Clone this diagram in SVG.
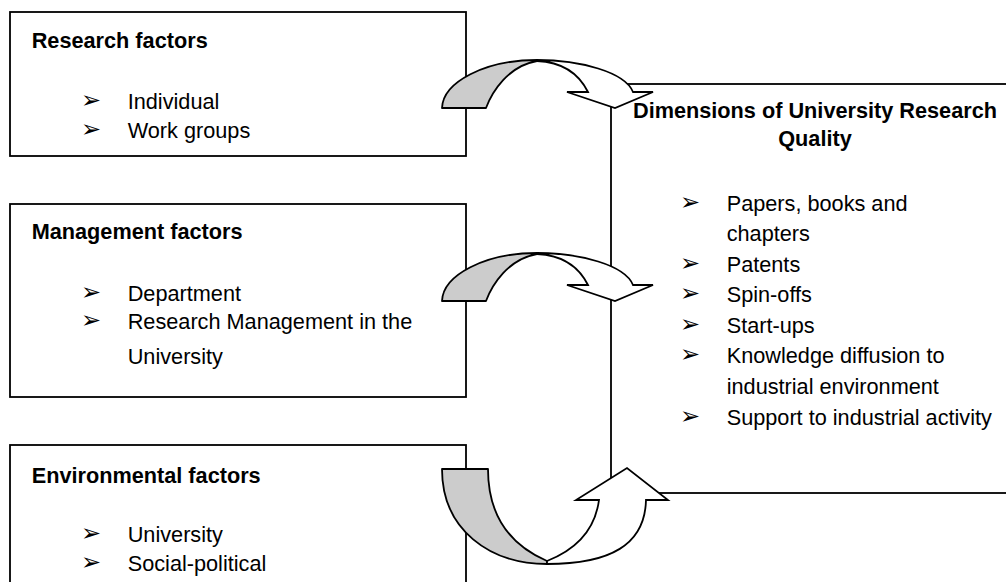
<svg xmlns="http://www.w3.org/2000/svg" width="1006" height="582" viewBox="0 0 1006 582">
<style>
.box{fill:#fff;stroke:#000;stroke-width:1.8}
.t{font-family:"Liberation Sans",Arial,sans-serif;font-size:21.7px;fill:#000}
.b{font-weight:bold}
.bu{font-family:"DejaVu Sans",sans-serif;font-size:24px;fill:#000}
.back{fill:#cccccc;stroke:#000;stroke-width:1.8;stroke-linejoin:round}
.front{fill:#fff;stroke:#000;stroke-width:1.8;stroke-linejoin:miter}
</style>
<rect width="1006" height="582" fill="#fff"/>
<g id="research-factors">
<rect class="box" x="10" y="12" width="456" height="144"/>
<text class="t b" x="31.7" y="47.7">Research factors</text>
<text class="bu" x="81" y="108">➢</text>
<text class="t" x="127.7" y="109">Individual</text>
<text class="bu" x="81" y="136.5">➢</text>
<text class="t" x="127.7" y="137.5">Work groups</text>
</g>
<g id="management-factors">
<rect class="box" x="10" y="204" width="456" height="193"/>
<text class="t b" x="31.7" y="239.3">Management factors</text>
<text class="bu" x="81" y="300">➢</text>
<text class="t" x="127.7" y="301">Department</text>
<text class="bu" x="81" y="328.3">➢</text>
<text class="t" x="127.7" y="329.3">Research Management in the</text>
<text class="t" x="127.7" y="364.3">University</text>
</g>
<g id="environmental-factors">
<rect class="box" x="10" y="445" width="456" height="200"/>
<text class="t b" x="31.7" y="483">Environmental factors</text>
<text class="bu" x="81" y="540.7">➢</text>
<text class="t" x="127.7" y="541.7">University</text>
<text class="bu" x="81" y="569.7">➢</text>
<text class="t" x="127.7" y="570.7">Social-political</text>
</g>
<g id="research-quality">
<rect class="box" x="611" y="84" width="420" height="409"/>
<text class="t b" x="815" y="118.3" text-anchor="middle">Dimensions of University Research</text>
<text class="t b" x="815" y="146" text-anchor="middle">Quality</text>
<text class="bu" x="680" y="209.7">➢</text>
<text class="t" x="726.7" y="210.7">Papers, books and</text>
<text class="t" x="726.7" y="241">chapters</text>
<text class="bu" x="680" y="270.7">➢</text>
<text class="t" x="726.7" y="271.7">Patents</text>
<text class="bu" x="680" y="301.3">➢</text>
<text class="t" x="726.7" y="302.3">Spin-offs</text>
<text class="bu" x="680" y="332.3">➢</text>
<text class="t" x="726.7" y="333.3">Start-ups</text>
<text class="bu" x="680" y="362.3">➢</text>
<text class="t" x="726.7" y="363.3">Knowledge diffusion to</text>
<text class="t" x="726.7" y="394">industrial environment</text>
<text class="bu" x="680" y="424">➢</text>
<text class="t" x="726.7" y="425">Support to industrial activity</text>
</g>
<g id="connectors">
<g id="arrow-research">
<path class="back" d="M442,108 L486,108 C492,92 508,66 537,61 L537,60 C485,60 443,82 442,108 Z"/>
<path class="front" d="M537,60 C580,60 625,72 633,92 L653,92 L615,108 L567,92 L588,92 C578,72 560,62 537,61 Z"/>
</g>
<g id="arrow-management" transform="translate(0,193)">
<path class="back" d="M442,108 L486,108 C492,92 508,66 537,61 L537,60 C485,60 443,82 442,108 Z"/>
<path class="front" d="M537,60 C580,60 625,72 633,92 L653,92 L615,108 L567,92 L588,92 C578,72 560,62 537,61 Z"/>
</g>
<g id="arrow-environmental">
<path class="back" d="M442,469 L488,469 C488,515 510,545 547,561 L547,564 C490,564 442,530 442,469 Z"/>
<path class="front" d="M547,564 C610,564 645,545 646,500 L668,500 L627,468 L576,500 L599,500 C595,530 575,550 547,561 Z"/>
</g>
</g>
</svg>
